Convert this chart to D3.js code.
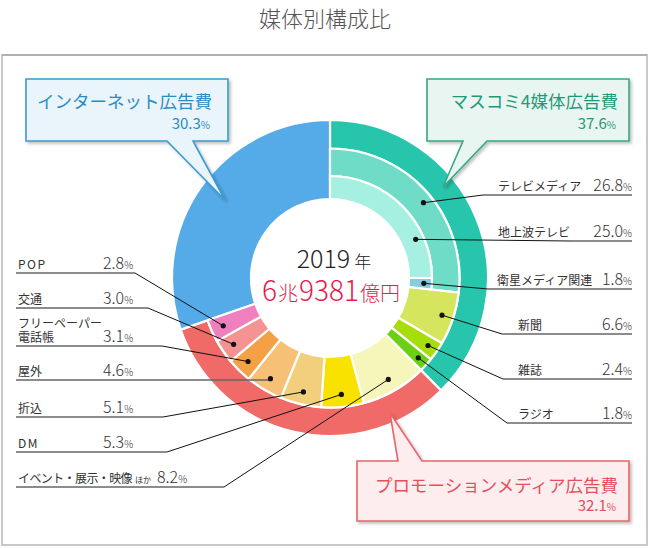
<!DOCTYPE html>
<html>
<head>
<meta charset="utf-8">
<script src="https://cdn.jsdelivr.net/npm/d3@7"></script>
<style>
  html, body { margin: 0; padding: 0; background: #fff; }
  svg { display: block; font-family: "Noto Sans CJK JP", "Noto Sans", sans-serif; }
</style>
</head>
<body>
<div id="chart"></div>
<script>
// ── データ ──
const majorCats   = ["マスコミ4媒体広告費", "プロモーションメディア広告費", "インターネット広告費"];
const majorValues = [37.6, 32.1, 30.3];

const massLabels = ["テレビメディア", "新聞", "雑誌", "ラジオ"];
const massValues = [26.8, 6.6, 2.4, 1.8];

const tvLabels = ["地上波テレビ", "衛星メディア関連"];
const tvValues = [25.0, 1.8];

const promoLabels = ["イベント・展示・映像ほか", "DM", "折込", "屋外", "フリーペーパー\n電話帳", "交通", "POP"];
const promoValues = [8.2, 5.3, 5.1, 4.6, 3.1, 3.0, 2.8];

const centerYear  = ["2019", "年"];
const centerTotal = ["6", "兆", "9381", "億円"];

// ── 色 ──
const MAJOR_COLORS = ["#27c6ac", "#f06b68", "#55abe8"];
const MASS_COLORS  = ["#6edcc6", "#d6e55e", "#a8dd0c", "#6cd012"];
const TV_COLORS    = ["#a5f0e1", "#86cde0"];
const PROMO_COLORS = ["#f6f6ba", "#f9e100", "#f1cf7c", "#f6c076", "#f4a044", "#f49492", "#f07fbe"];

const width = 650, height = 548;
const cx = 330, cy = 278;
const R_IN = 79, R_MID = 129.5, R_OUT = 158;
const R_TV = 102;

const svg = d3.select("#chart").append("svg")
  .attr("width", width).attr("height", height);

const defs = svg.append("defs");
const shadow = defs.append("filter").attr("id", "shadow")
  .attr("x", "-10%").attr("y", "-10%").attr("width", "130%").attr("height", "140%");
shadow.append("feDropShadow")
  .attr("dx", 2).attr("dy", 2).attr("stdDeviation", 1.5)
  .attr("flood-color", "#000").attr("flood-opacity", 0.25);

// ── 枠 ──
svg.append("rect")
  .attr("x", 2).attr("y", 55).attr("width", 645).attr("height", 490)
  .attr("fill", "none").attr("stroke", "#c8c8c8").attr("stroke-width", 2);
svg.append("line")
  .attr("x1", 2).attr("x2", 647).attr("y1", 55).attr("y2", 55)
  .attr("stroke", "#999").attr("stroke-width", 1.2);

// タイトル
svg.append("text")
  .attr("x", 325).attr("y", 27)
  .attr("text-anchor", "middle")
  .attr("font-size", 22).attr("font-weight", 300)
  .attr("fill", "#555")
  .text("媒体別構成比");

// ── 角度スケール ──
const ang = d3.scaleLinear().domain([0, 100]).range([0, 2 * Math.PI]);
const arc = d3.arc();

function cumulate(values, start) {
  let acc = start;
  return values.map(v => { const s = acc; acc += v; return [s, acc]; });
}

const majorSpans = cumulate(majorValues, 0);
const massSpans  = cumulate(massValues, majorSpans[0][0]);
const tvSpans    = cumulate(tvValues, massSpans[0][0]);
const promoSpans = cumulate(promoValues, majorSpans[1][0]);

const pie = svg.append("g").attr("transform", `translate(${cx},${cy})`);

function seg(span, r0, r1, color) {
  pie.append("path")
    .attr("d", arc({ startAngle: ang(span[0]), endAngle: ang(span[1]), innerRadius: r0, outerRadius: r1 }))
    .attr("fill", color)
    .attr("stroke", "#fff").attr("stroke-width", 2.2).attr("stroke-linejoin", "round");
}

// 外側リング
seg(majorSpans[0], R_MID, R_OUT, MAJOR_COLORS[0]);
seg(majorSpans[1], R_MID, R_OUT, MAJOR_COLORS[1]);
seg(majorSpans[2], R_IN, R_OUT, MAJOR_COLORS[2]);

// マスコミ内訳
massSpans.forEach((sp, i) => {
  if (i === 0) seg(sp, R_TV, R_MID, MASS_COLORS[i]);
  else seg(sp, R_IN, R_MID, MASS_COLORS[i]);
});
tvSpans.forEach((sp, i) => seg(sp, R_IN, R_TV, TV_COLORS[i]));

// プロモーション内訳
promoSpans.forEach((sp, i) => seg(sp, R_IN, R_MID, PROMO_COLORS[i]));

// ── ラベル ──
function dotPos(span, r, frac = 0.5) {
  const a = ang(span[0] + (span[1] - span[0]) * frac);
  return [cx + r * Math.sin(a), cy - r * Math.cos(a)];
}

function pctText(sel, v, numSize, pctSize) {
  sel.append("tspan").attr("font-size", numSize).text(d3.format(".1f")(v));
  sel.append("tspan").attr("font-size", pctSize).text("%");
}

const labelG = svg.append("g");
const FONT_LABEL = 12, FONT_NUM = 16, FONT_PCT = 10;

function drawLabel(o) {
  // leader
  labelG.append("line")
    .attr("x1", o.dot[0]).attr("y1", o.dot[1])
    .attr("x2", o.lx).attr("y2", o.ly)
    .attr("stroke", "#111").attr("stroke-width", 1);
  // underline
  labelG.append("line")
    .attr("x1", o.u0).attr("x2", o.u1).attr("y1", o.ly).attr("y2", o.ly)
    .attr("stroke", "#666").attr("stroke-width", 1.6);
  labelG.append("circle")
    .attr("cx", o.dot[0]).attr("cy", o.dot[1]).attr("r", 2.6).attr("fill", "#111");

  const lines = o.label.split("\n");
  lines.forEach((ln, k) => {
    const t = labelG.append("text")
      .attr("x", o.tx).attr("y", o.ly - 4 - (lines.length - 1 - k) * 14)
      .attr("font-size", FONT_LABEL).attr("fill", "#333");
    if (ln === "POP" || ln === "DM") t.attr("letter-spacing", 1.5);
    if (ln.endsWith("ほか")) {
      t.attr("letter-spacing", -0.6);
      t.append("tspan").text(ln.slice(0, -2));
      t.append("tspan").attr("font-size", 8).attr("dx", 3).attr("letter-spacing", 0).text("ほか");
    } else {
      t.text(ln);
    }
  });
  const v = labelG.append("text")
    .attr("x", o.vx).attr("y", o.ly - 4)
    .attr("text-anchor", o.vAnchor).attr("fill", "#333").attr("font-weight", 300);
  pctText(v, o.value, FONT_NUM, FONT_PCT);
}

// 右側 (マスコミ)
const rightRows = [
  { label: massLabels[0], value: massValues[0], span: massSpans[0], r: 120, frac: 0.53, ly: 195, lx: 483, tx: 498 },
  { label: tvLabels[0],   value: tvValues[0],   span: tvSpans[0],   r: 94,  frac: 0.73, ly: 241, lx: 570, tx: 498 },
  { label: tvLabels[1],   value: tvValues[1],   span: tvSpans[1],   r: 94,  frac: 0.5,  ly: 289, lx: 488, tx: 497 },
  { label: massLabels[1], value: massValues[1], span: massSpans[1], r: 118, frac: 0.5,  ly: 334, lx: 502, tx: 518 },
  { label: massLabels[2], value: massValues[2], span: massSpans[2], r: 119, frac: 0.5,  ly: 379, lx: 503, tx: 518 },
  { label: massLabels[3], value: massValues[3], span: massSpans[3], r: 119, frac: 0.5,  ly: 423, lx: 507, tx: 518 },
];
rightRows.forEach(d => drawLabel({
  label: d.label, value: d.value,
  dot: dotPos(d.span, d.r, d.frac),
  lx: d.lx, ly: d.ly, u0: d.lx, u1: 632,
  tx: d.tx, vx: 632, vAnchor: "end",
}));

// 左側 (プロモーション)
const leftLayout = {
  "POP":                    { ly: 273, lx: 135, vx: 103 },
  "交通":                   { ly: 308, lx: 148, vx: 103 },
  "フリーペーパー\n電話帳": { ly: 346, lx: 162, vx: 103 },
  "屋外":                   { ly: 380, lx: 270, vx: 103 },
  "折込":                   { ly: 417, lx: 163, vx: 103 },
  "DM":                     { ly: 452, lx: 167, vx: 103 },
  "イベント・展示・映像ほか": { ly: 487, lx: 224, vx: 157 },
};
promoLabels.forEach((name, i) => {
  const L = leftLayout[name];
  drawLabel({
    label: name, value: promoValues[i],
    dot: dotPos(promoSpans[i], 117),
    lx: L.lx, ly: L.ly, u0: 16, u1: L.lx,
    tx: 18, vx: L.vx, vAnchor: "start",
  });
});

// ── 中央テキスト ──
const cyear = svg.append("text")
  .attr("x", 334).attr("y", 268).attr("text-anchor", "middle")
  .attr("fill", "#222").attr("font-weight", 300);
cyear.append("tspan").attr("font-size", 25).text(centerYear[0]);
cyear.append("tspan").attr("font-size", 17).attr("dx", 4).text(centerYear[1]);

const ctotal = svg.append("text")
  .attr("x", 331).attr("y", 301).attr("text-anchor", "middle")
  .attr("fill", "#e8194c").attr("font-weight", 300);
centerTotal.forEach((s, i) => {
  ctotal.append("tspan")
    .attr("font-size", i % 2 === 0 ? 28 : 20)
    .attr("dx", i === 0 ? 0 : 1)
    .text(s);
});

// ── 吹き出し ──
function callout(o) {
  const { x0, y0, x1, y1, tip, base, side } = o;
  let p;
  if (side === "bottom") {
    p = `M${x0},${y0}H${x1}V${y1}H${base[1]}L${tip[0]},${tip[1]}L${base[0]},${y1}H${x0}Z`;
  } else {
    p = `M${x0},${y0}H${base[0]}L${tip[0]},${tip[1]}L${base[1]},${y0}H${x1}V${y1}H${x0}Z`;
  }
  const g = svg.append("g");
  g.append("path")
    .attr("d", p)
    .attr("fill", o.fill).attr("stroke", o.stroke).attr("stroke-width", 1.6)
    .attr("stroke-linejoin", "miter")
    .attr("filter", "url(#shadow)");
  g.append("text")
    .attr("x", o.tx).attr("y", o.ty1).attr("text-anchor", "end")
    .attr("font-size", 17.5).attr("fill", o.text)
    .text(o.title);
  const v = g.append("text")
    .attr("x", o.tx - 2).attr("y", o.ty2).attr("text-anchor", "end")
    .attr("fill", o.text);
  pctText(v, o.value, 15, 10);
}

callout({
  title: majorCats[2], value: majorValues[2],
  x0: 26, y0: 79, x1: 228, y1: 141, side: "bottom",
  base: [167, 193], tip: [225, 200],
  fill: "#eaf4fb", stroke: "#3a9bd0", text: "#2a8cc4",
  tx: 212, ty1: 108, ty2: 129,
});
callout({
  title: majorCats[0], value: majorValues[0],
  x0: 427, y0: 79, x1: 629, y1: 141, side: "bottom",
  base: [463, 487], tip: [443, 187],
  fill: "#e9f5f1", stroke: "#35a886", text: "#1f9a78",
  tx: 618, ty1: 108, ty2: 129,
});
callout({
  title: majorCats[1], value: majorValues[1],
  x0: 357, y0: 461, x1: 629, y1: 521, side: "top",
  base: [398, 422], tip: [390, 413],
  fill: "#fdedef", stroke: "#e8636a", text: "#e64f5a",
  tx: 618, ty1: 492, ty2: 511,
});
</script>
</body>
</html>
